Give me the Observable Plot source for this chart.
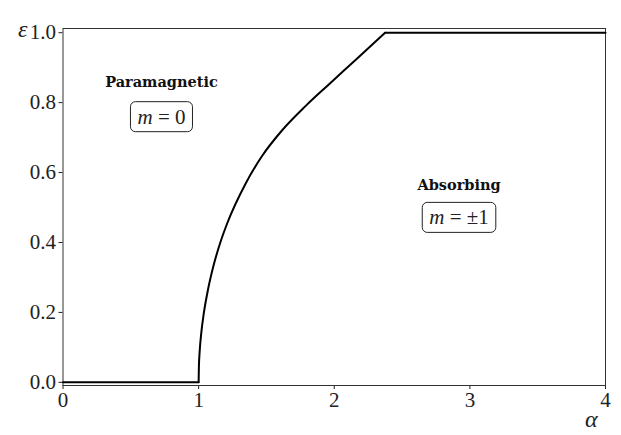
<!DOCTYPE html>
<html>
<head>
<meta charset="utf-8">
<script src="https://cdn.jsdelivr.net/npm/d3@7"></script>
<script src="https://cdn.jsdelivr.net/npm/@observablehq/plot@0.6"></script>
<style>
  body { margin: 0; background: #fff; }
</style>
</head>
<body>
<div id="chart"></div>
<script>
// Critical line ε_c(α) separating the paramagnetic and absorbing phases
const boundaryAlpha = [1.0, 1.002, 1.008, 1.02, 1.038, 1.07, 1.112, 1.16, 1.211, 1.346, 1.469, 1.616, 1.788, 1.96, 2.157, 2.375];
const boundaryEps   = [0.0, 0.045, 0.09, 0.143, 0.197, 0.267, 0.337, 0.4, 0.455, 0.568, 0.648, 0.721, 0.79, 0.852, 0.922, 1.0];

// Flat parts of the line below α = 1 and beyond the saturation point
const lowAlpha  = [0, 1];
const lowEps    = [0, 0];
const highAlpha = [2.375, 4];
const highEps   = [1, 1];

// Axis ticks
const xTicks = [0, 1, 2, 3, 4];
const yTicks = [0.0, 0.2, 0.4, 0.6, 0.8, 1.0];

// Phase annotations
const phaseNames  = ["Paramagnetic", "Absorbing"];
const phaseStates = ["m = 0", "m = ±1"];
const phaseAlpha  = [0.726, 2.92];
const nameEps     = [0.859, 0.564];
const stateEps    = [0.759, 0.471];

const toRows = (xs, ys) => xs.map((x, i) => ({alpha: x, eps: ys[i]}));
const boundary = toRows(boundaryAlpha, boundaryEps);
const low = toRows(lowAlpha, lowEps);
const high = toRows(highAlpha, highEps);
const phases = phaseNames.map((name, i) => ({
  name, state: phaseStates[i], alpha: phaseAlpha[i], nameEps: nameEps[i], stateEps: stateEps[i]
}));

const serif = "'Liberation Serif', 'DejaVu Serif', serif";

const chart = Plot.plot({
  width: 621,
  height: 435,
  marginLeft: 62.5,
  marginRight: 16,
  marginTop: 28,
  marginBottom: 50,
  style: {fontFamily: serif, fontSize: "21px", color: "#222", background: "#fff"},
  x: {domain: [0, 4], ticks: xTicks, tickFormat: d3.format("d"), tickSize: 4, tickPadding: 3, label: null},
  y: {domain: [-0.009, 1.012], ticks: yTicks, tickFormat: d3.format(".1f"), tickSize: 4, tickPadding: 3, label: null},
  marks: [
    Plot.frame({stroke: "#333", strokeWidth: 1}),
    Plot.line(low, {x: "alpha", y: "eps", stroke: "#000", strokeWidth: 2}),
    Plot.line(high, {x: "alpha", y: "eps", stroke: "#000", strokeWidth: 2}),
    Plot.line(boundary, {x: "alpha", y: "eps", stroke: "#000", strokeWidth: 2, curve: "monotone-x"}),
    Plot.text(phases, {
      x: "alpha", y: "nameEps", text: "name",
      fontFamily: "'DejaVu Serif', serif", fontWeight: "bold", fontSize: 14.5, fill: "#111"
    }),
    Plot.text(phases, {
      x: "alpha", y: "stateEps", text: "state",
      fontFamily: serif, fontSize: 21, fill: "#222"
    }),
    Plot.text(["ε"], {frameAnchor: "top-left", dx: -45, dy: -9, fontSize: 24, fontStyle: "italic", fill: "#222"}),
    Plot.text(["α"], {frameAnchor: "bottom-right", dx: -8, dy: 41, fontSize: 24, fontStyle: "italic", fill: "#222"})
  ]
});

document.getElementById("chart").appendChild(chart);

// Italic symbol and rounded box around each phase state label
const svgNS = "http://www.w3.org/2000/svg";
Array.from(chart.querySelectorAll("text"))
  .filter((t) => phaseStates.includes(t.textContent))
  .forEach((t) => {
    const label = t.textContent;
    while (t.firstChild) t.removeChild(t.firstChild);
    const sym = document.createElementNS(svgNS, "tspan");
    sym.setAttribute("font-style", "italic");
    sym.textContent = label.slice(0, 1);
    const rest = document.createElementNS(svgNS, "tspan");
    rest.textContent = label.slice(1);
    t.appendChild(sym);
    t.appendChild(rest);
    const b = t.getBBox();
    const padX = 7, padY = 3;
    const r = document.createElementNS(svgNS, "rect");
    r.setAttribute("x", b.x - padX);
    r.setAttribute("y", b.y - padY);
    r.setAttribute("width", b.width + 2 * padX);
    r.setAttribute("height", b.height + 2 * padY);
    r.setAttribute("rx", 5);
    r.setAttribute("fill", "#fff");
    r.setAttribute("stroke", "#222");
    r.setAttribute("stroke-width", 1);
    const tr = t.getAttribute("transform");
    if (tr) r.setAttribute("transform", tr);
    t.parentNode.insertBefore(r, t);
  });
</script>
</body>
</html>
